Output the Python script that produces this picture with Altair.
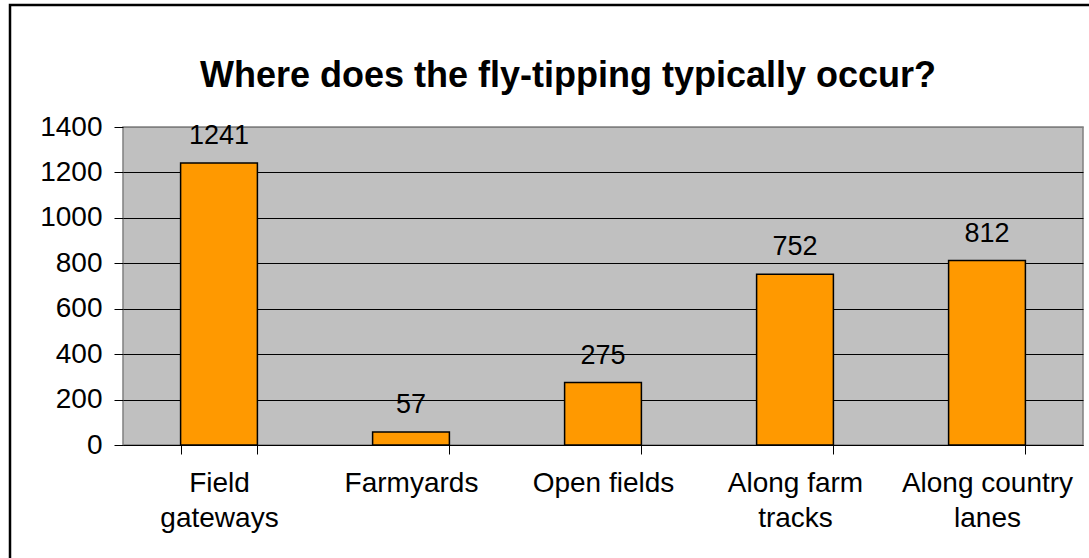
import altair as alt
import pandas as pd

# Survey counts: where fly-tipping typically occurs
label_lines = [
    ["Field", "gateways"],
    ["Farmyards"],
    ["Open fields"],
    ["Along farm", "tracks"],
    ["Along country", "lanes"],
]
counts = [1241, 57, 275, 752, 812]
y_ticks = [0, 200, 400, 600, 800, 1000, 1200, 1400]
title_text = "Where does the fly-tipping typically occur?"

FONT = "Liberation Sans"

bars_df = pd.DataFrame({
    "location": ["\n".join(lines) for lines in label_lines],
    "count": counts,
})
title_df = pd.DataFrame({"title": [title_text]})
frame_df = pd.DataFrame({"frame": [0]})

x_enc = alt.X(
    "location:N",
    sort=None,
    title=None,
    scale=alt.Scale(paddingInner=0.6, paddingOuter=0.3),
    axis=alt.Axis(
        labelExpr="split(datum.label, '\\n')",
        labelAngle=0,
        labelFontSize=28,
        labelLineHeight=35,
        labelPadding=15,
        labelBaseline="top",
        tickBand="extent",
        tickSize=9,
        tickColor="black",
        domainColor="black",
        grid=False,
    ),
)
y_enc = alt.Y(
    "count:Q",
    title=None,
    scale=alt.Scale(domain=[0, 1400], nice=False),
    axis=alt.Axis(
        values=y_ticks,
        format="d",
        labelFontSize=28,
        labelPadding=12,
        tickSize=9,
        tickColor="black",
        domain=False,
        grid=True,
        gridColor={"condition": {"test": "datum.value == 1400", "value": "#808080"}, "value": "black"},
        gridWidth=1,
    ),
)

base = alt.Chart(bars_df).encode(x=x_enc, y=y_enc)

bars = base.mark_bar(color="#FF9900", stroke="black", strokeWidth=1.5)
values = base.mark_text(dy=-19, baseline="alphabetic", fontSize=27, font=FONT, color="black").encode(
    text="count:Q"
)

title = alt.Chart(title_df).mark_text(
    font=FONT, fontSize=36, fontWeight="bold", color="black", baseline="middle", align="center"
).encode(text="title:N", x=alt.value(445), y=alt.value(-51))

frame = alt.Chart(frame_df).mark_rect(
    fillOpacity=0, stroke="black", strokeWidth=2.5
).encode(x=alt.value(-113), x2=alt.value(990), y=alt.value(-122), y2=alt.value(460))

chart = (
    alt.layer(frame, bars, values, title)
    .properties(
        width=960,
        height=318,
        padding={"left": 123, "top": 127, "right": 6, "bottom": 113},
        autosize=alt.AutoSizeParams(type="none"),
        background="white",
    )
    .configure_view(fill="#C0C0C0", stroke="#808080", strokeWidth=1.5)
    .configure_axis(labelFont=FONT, labelColor="black")
)

chart.save("out.html", embed_options={"renderer": "svg", "actions": False})
